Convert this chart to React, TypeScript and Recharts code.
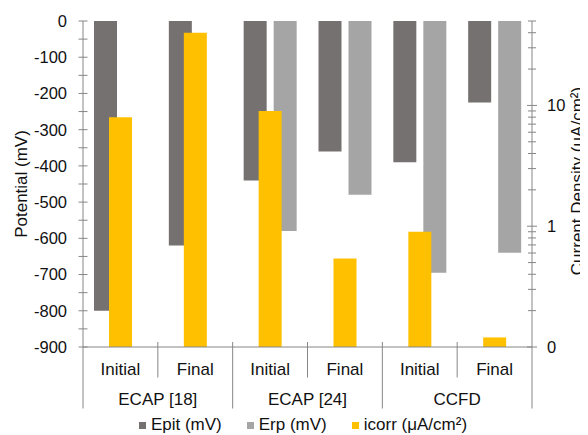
import React from 'react';
import { BarChart, Bar, XAxis, YAxis, Legend } from 'recharts';

const categories = ['Initial', 'Final', 'Initial', 'Final', 'Initial', 'Final'];
const groups = ['ECAP [18]', 'ECAP [24]', 'CCFD'];
const epit = [-800, -620, -440, -360, -390, -225];
const erp: (number | null)[] = [null, null, -580, -480, -695, -640];
const icorr = [8, 40, 9, 0.54, 0.9, 0.12];

const potentialTicks = [0, -50, -100, -150, -200, -250, -300, -350, -400, -450, -500, -550, -600, -650, -700, -750, -800, -850, -900];
const potentialLabelTicks = [0, -100, -200, -300, -400, -500, -600, -700, -800, -900];
const currentTicks = [0.1, 0.2, 0.3, 0.4, 0.5, 0.6, 0.7, 0.8, 0.9, 1, 2, 3, 4, 5, 6, 7, 8, 9, 10, 20, 30, 40, 50];
const currentLabelTicks = [0.1, 1, 10];
const currentLabelText = ['0', '1', '10'];

const data = categories.map((c, i) => ({
  id: `${groups[Math.floor(i / 2)]}|${c}|${i}`,
  epit: epit[i],
  erp: erp[i],
  icorr: icorr[i],
}));

const FONT = '"Liberation Sans", Arial, sans-serif';
const TEXT = '#111';
const AXIS = '#868686';
const C_EPIT = '#767171';
const C_ERP = '#A5A5A5';
const C_ICORR = '#FFC000';

const CHART_W = 580;
const CHART_H = 427;
const LEFT_W = 75;
const RIGHT_W = 56;
const HALF = (CHART_W - LEFT_W - RIGHT_W) / categories.length / 2;

const LeftTick = (props: any) => {
  const { x, y, payload } = props;
  const v = payload.value;
  const show = potentialLabelTicks.includes(v);
  return (
    <g>
      <line x1={x - 4.5} x2={x + 4.5} y1={y} y2={y} stroke={AXIS} />
      {show && (
        <text x={x - 16} y={y} dy="0.36em" textAnchor="end" fontFamily={FONT} fontSize={16.5} fill={TEXT}>
          {v}
        </text>
      )}
    </g>
  );
};

const RightTick = (props: any) => {
  const { x, y, payload } = props;
  const v = payload.value;
  const idx = currentLabelTicks.findIndex((t) => Math.abs(t - v) < 1e-9);
  const major = idx >= 0;
  const len = major ? 5 : 4;
  return (
    <g>
      <line x1={x - len} x2={x + len} y1={y} y2={y} stroke={AXIS} />
      {major && (
        <text x={x + 15} y={y} dy="0.36em" textAnchor="start" fontFamily={FONT} fontSize={16.5} fill={TEXT}>
          {currentLabelText[idx]}
        </text>
      )}
    </g>
  );
};

const TopTick = (props: any) => {
  const { x, y, index } = props;
  if (index === 0) return <g />;
  const bx = x - HALF;
  return (
    <g>
      <line x1={bx} x2={bx} y1={y - 5} y2={y + 5} stroke={AXIS} />
    </g>
  );
};

const BottomTick = (props: any) => {
  const { x, y, index } = props;
  const i = index as number;
  const groupStart = i % 2 === 0;
  const bx = x - HALF;
  return (
    <g>
      <line x1={bx} x2={bx} y1={i === 0 ? y : y - 5} y2={y + (groupStart ? 61.5 : 30.5)} stroke={AXIS} />
      {i === categories.length - 1 && (
        <line x1={x + HALF} x2={x + HALF} y1={y} y2={y + 61.5} stroke={AXIS} />
      )}
      <text x={x} y={y + 27.5} textAnchor="middle" fontFamily={FONT} fontSize={17} fill={TEXT}>
        {categories[i]}
      </text>
      {groupStart && (
        <text x={x + HALF} y={y + 58} textAnchor="middle" fontFamily={FONT} fontSize={17} fill={TEXT}>
          {groups[i / 2]}
        </text>
      )}
    </g>
  );
};

const legendItems = [
  { label: 'Epit (mV)', color: C_EPIT },
  { label: 'Erp (mV)', color: C_ERP },
  { label: 'icorr (μA/cm²)', color: C_ICORR },
];

const LegendContent = () => (
  <div
    style={{
      display: 'flex',
      justifyContent: 'center',
      alignItems: 'center',
      height: 20,
      paddingLeft: 10,
      fontFamily: FONT,
      fontSize: 17,
      color: TEXT,
      whiteSpace: 'nowrap',
    }}
  >
    {legendItems.map((it, k) => (
      <div key={it.label} style={{ display: 'flex', alignItems: 'center', marginLeft: k === 0 ? 0 : 25 }}>
        <span style={{ display: 'inline-block', width: 7, height: 7, background: it.color, marginRight: 5 }} />
        <span>{it.label}</span>
      </div>
    ))}
  </div>
);

const LeftLabel = (props: any) => {
  const vb = props.viewBox;
  const cx = vb.x + 19;
  const cy = vb.y + vb.height / 2;
  return (
    <text x={cx} y={cy} transform={`rotate(-90 ${cx} ${cy})`} textAnchor="middle" fontFamily={FONT} fontSize={17} fill={TEXT}>
      Potential (mV)
    </text>
  );
};

const RightLabel = (props: any) => {
  const vb = props.viewBox;
  const cx = vb.x + 50.5;
  const cy = vb.y + vb.height / 2 - 3;
  return (
    <text x={cx} y={cy} transform={`rotate(-90 ${cx} ${cy})`} textAnchor="middle" fontFamily={FONT} fontSize={17} fill={TEXT}>
      Current Density (μA/cm²)
    </text>
  );
};

export default function App() {
  return (
    <div style={{ width: CHART_W, height: CHART_H }}>
      <BarChart
        width={CHART_W}
        height={CHART_H}
        data={data}
        margin={{ top: 13, right: 0, left: 0, bottom: 0 }}
        barGap={7}
      >
        <XAxis
          xAxisId="top"
          dataKey="id"
          orientation="top"
          height={0}
          axisLine={{ stroke: AXIS }}
          tickLine={false}
          tickSize={0}
          tickMargin={0}
          interval={0}
          tick={<TopTick />}
        />
        <XAxis
          xAxisId="bottom"
          dataKey="id"
          orientation="bottom"
          height={68}
          axisLine={{ stroke: AXIS }}
          tickLine={false}
          tickSize={0}
          tickMargin={0}
          interval={0}
          tick={<BottomTick />}
        />
        <YAxis
          yAxisId="left"
          orientation="left"
          width={LEFT_W}
          type="number"
          domain={[-900, 0]}
          ticks={potentialTicks}
          interval={0}
          allowDataOverflow
          axisLine={{ stroke: AXIS }}
          tickLine={false}
          tickSize={0}
          tickMargin={0}
          tick={<LeftTick />}
          label={{ content: <LeftLabel /> }}
        />
        <YAxis
          yAxisId="right"
          orientation="right"
          width={RIGHT_W}
          type="number"
          scale="log"
          domain={[0.1, 50]}
          ticks={currentTicks}
          interval={0}
          allowDataOverflow
          axisLine={{ stroke: AXIS }}
          tickLine={false}
          tickSize={0}
          tickMargin={0}
          tick={<RightTick />}
          label={{ content: <RightLabel /> }}
        />
        <Legend verticalAlign="bottom" align="center" content={<LegendContent />} />
        <Bar dataKey="epit" xAxisId="top" yAxisId="left" fill={C_EPIT} barSize={23} isAnimationActive={false} />
        <Bar dataKey="erp" xAxisId="top" yAxisId="left" fill={C_ERP} barSize={23} isAnimationActive={false} />
        <Bar dataKey="icorr" xAxisId="bottom" yAxisId="right" fill={C_ICORR} barSize={23} isAnimationActive={false} />
      </BarChart>
    </div>
  );
}
